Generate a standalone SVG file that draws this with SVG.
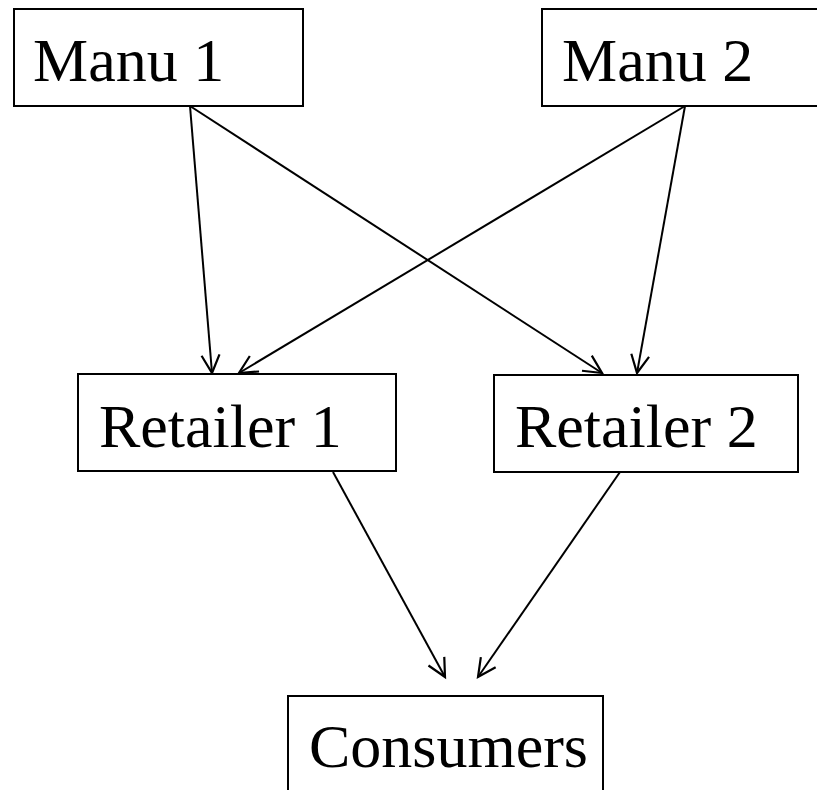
<svg xmlns="http://www.w3.org/2000/svg" width="817" height="790" viewBox="0 0 817 790">
<style>
.box{fill:#fff;stroke:#000;stroke-width:2}
.lbl{font-family:"Liberation Serif","Times New Roman","DejaVu Serif",serif;font-size:62px;fill:#000}
.edge{stroke:#000;stroke-width:2;fill:none;marker-end:url(#arr)}
</style>
<defs>
<marker id="arr" markerUnits="userSpaceOnUse" markerWidth="40" markerHeight="40" refX="0" refY="0" viewBox="-20 -20 40 40" orient="auto">
<path d="M-18,-9 L0,0 L-18,9" fill="none" stroke="#000" stroke-width="2.2"/>
</marker>
</defs>
<rect width="817" height="790" fill="#fff"/>
<g id="connectors">
<line class="edge" x1="190" y1="106" x2="212" y2="373"/>
<line class="edge" x1="190" y1="106" x2="602" y2="373"/>
<line class="edge" x1="685" y1="106" x2="239" y2="373"/>
<line class="edge" x1="685" y1="106" x2="637" y2="373"/>
<line class="edge" x1="333" y1="472" x2="445" y2="677"/>
<line class="edge" x1="620" y1="472" x2="478" y2="677"/>
</g>
<g id="manu1"><rect class="box" x="14" y="9" width="289" height="97"/><text class="lbl" x="33" y="81">Manu 1</text></g>
<g id="manu2"><rect class="box" x="542" y="9" width="280" height="97"/><text class="lbl" x="562" y="81">Manu 2</text></g>
<g id="retailer1"><rect class="box" x="78" y="374" width="318" height="97"/><text class="lbl" x="99" y="447">Retailer 1</text></g>
<g id="retailer2"><rect class="box" x="494" y="375" width="304" height="97"/><text class="lbl" x="515" y="447">Retailer 2</text></g>
<g id="consumers"><rect class="box" x="288" y="696" width="315" height="110"/><text class="lbl" x="309" y="767">Consumers</text></g>
</svg>
